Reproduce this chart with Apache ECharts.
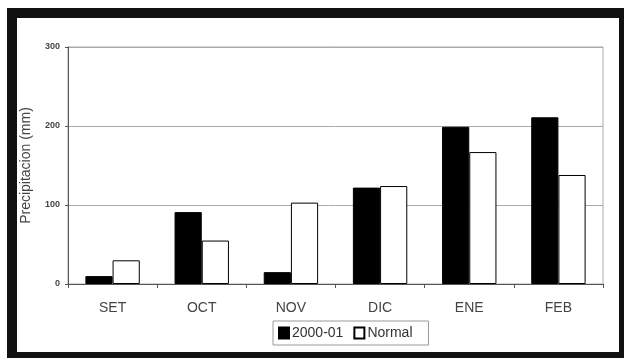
<html>
    <head>
        <meta charset='utf-8'>
        <script src='https://cdn.jsdelivr.net/npm/echarts@6/dist/echarts.min.js'></script>
    </head>
    <body>
        <style>
            html, body {
                width: 100%;
                height: 100%;
                margin: 0;
                background: #fff;
            }
            #frame {
                position: absolute;
                left: 7px;
                top: 8px;
                width: 617px;
                height: 350px;
                box-sizing: border-box;
                border-left: 10px solid #111;
                border-top: 10px solid #111;
                border-right: 5px solid #111;
                border-bottom: 6px solid #111;
            }
            #main {
                position: absolute;
                left: 0;
                top: 0;
                width: 624px;
                height: 358px;
            }
        </style>
        <div id='frame'></div>
        <div id='main'></div>
        <script>

            var months = ['SET', 'OCT', 'NOV', 'DIC', 'ENE', 'FEB'];
            var season = [10, 91, 15, 122, 199, 211];
            var normal = [30, 55, 103, 124, 167, 138];
            var yTicks = [0, 100, 200, 300];

            var chart = echarts.init(document.getElementById('main'), null, {renderer: 'canvas'});

            var option = {
                backgroundColor: 'transparent',
                animation: false,
                grid: {
                    left: 68,
                    right: 21,
                    top: 47,
                    bottom: 74,
                    show: true,
                    borderColor: '#aaa',
                    borderWidth: 1
                },
                legend: {
                    data: ['2000-01', 'Normal'],
                    left: 273,
                    top: 321,
                    padding: [5, 16, 5, 5],
                    borderColor: '#999',
                    borderWidth: 1,
                    itemGap: 10,
                    itemWidth: 10,
                    itemHeight: 11,
                    icon: 'rect',
                    textStyle: {
                        fontFamily: 'Liberation Sans',
                        fontSize: 14,
                        color: '#333',
                        padding: [0, 0, 0, -2]
                    }
                },
                xAxis: {
                    type: 'category',
                    data: months,
                    axisLine: {lineStyle: {color: '#555', width: 1}},
                    axisTick: {show: true, length: 4, lineStyle: {color: '#555'}},
                    axisLabel: {
                        margin: 17,
                        fontFamily: 'Liberation Sans',
                        fontSize: 14,
                        color: '#444'
                    }
                },
                yAxis: {
                    type: 'value',
                    min: yTicks[0],
                    max: yTicks[yTicks.length - 1],
                    interval: 100,
                    name: 'Precipitacion (mm)',
                    nameLocation: 'middle',
                    nameGap: 35,
                    nameTextStyle: {
                        fontFamily: 'Liberation Sans',
                        fontSize: 14,
                        color: '#444'
                    },
                    axisLine: {show: true, lineStyle: {color: '#555', width: 1}},
                    axisTick: {show: true, length: 3, lineStyle: {color: '#555'}},
                    axisLabel: {
                        margin: 8,
                        fontFamily: 'Liberation Sans',
                        fontSize: 9,
                        fontWeight: 'bold',
                        color: '#444'
                    },
                    splitLine: {lineStyle: {color: '#aaa', width: 1}}
                },
                series: [{
                    name: '2000-01',
                    type: 'bar',
                    data: season,
                    barGap: '0%',
                    barCategoryGap: '39%',
                    itemStyle: {color: '#000', borderColor: '#000', borderWidth: 1}
                }, {
                    name: 'Normal',
                    type: 'bar',
                    data: normal,
                    itemStyle: {color: '#fff', borderColor: '#000', borderWidth: 1}
                }]
            };

            chart.setOption(option);

        </script>
    </body>
</html>
